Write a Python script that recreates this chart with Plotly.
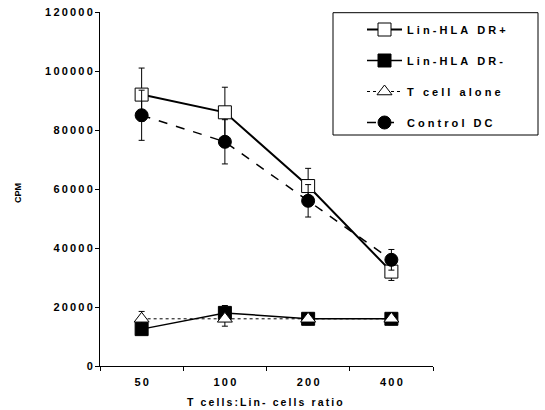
import plotly.graph_objects as go

# ---- data ----
ratios = ["50", "100", "200", "400"]
dr_pos = [92000, 86000, 61000, 32000]
dr_pos_err = [9000, 8500, 6000, 3000]
dr_neg = [12500, 18000, 16000, 16000]
dr_neg_err = [1500, 2500, 1500, 1500]
t_alone = [16000, 16000, 16000, 16000]
t_alone_err = [2500, 2500, 2000, 2000]
ctrl_dc = [85000, 76000, 56000, 36000]
ctrl_dc_err = [8500, 7500, 5500, 3500]
y_ticks = [0, 20000, 40000, 60000, 80000, 100000, 120000]

THIN = "\u2009"
NBSP = "\u00a0"


def spaced(s, sep=THIN):
    return sep.join(NBSP if c == " " else c for c in s)


xcat = [spaced(r) for r in ratios]
FONT = "Liberation Sans, Arial, sans-serif"

fig = go.Figure()


def add(name, y, err, symbol, dash, width, msize, fill):
    fig.add_trace(go.Scatter(
        x=xcat, y=y, name=spaced(name, NBSP), legendgroup=name,
        mode="lines+markers",
        line=dict(color="black", width=width, dash=dash),
        marker=dict(symbol=symbol, size=msize, color=fill,
                    line=dict(color="black", width=1)),
        error_y=dict(type="data", array=err, color="black", thickness=1, width=3),
    ))


add("Lin-HLA DR+", dr_pos, dr_pos_err, "square", "solid", 2, 13, "white")
add("Lin-HLA DR-", dr_neg, dr_neg_err, "square", "solid", 1.5, 13, "black")
add("T cell alone", t_alone, t_alone_err, "triangle-up", "dot", 1, 13, "white")
add("Control DC", ctrl_dc, ctrl_dc_err, "circle", "dash", 1.5, 13, "black")

L, R, T, B = 100, 112, 12, 44
W, H = 545, 410
pw, ph = W - L - R, H - T - B


def px(x):
    return (x - L) / pw


def py(y):
    return (H - B - y) / ph


fig.update_layout(
    width=W, height=H,
    margin=dict(l=L, r=R, t=T, b=B, autoexpand=False),
    paper_bgcolor="white", plot_bgcolor="white",
    font=dict(family=FONT, size=11, color="black", weight="bold"),
    showlegend=True,
    legend=dict(x=px(362), y=py(15), xanchor="left", yanchor="top",
                bgcolor="rgba(0,0,0,0)", borderwidth=0,
                itemwidth=35, tracegroupgap=12, traceorder="grouped",
                font=dict(family=FONT, size=11, color="black", weight="bold")),
    xaxis=dict(type="category", range=[-0.5, 3.5], showline=True, linecolor="black",
               linewidth=1, ticks="outside", ticklen=4, tickcolor="black",
               tickson="boundaries", showgrid=False, zeroline=False,
               ticklabelstandoff=6,
               tickfont=dict(family=FONT, size=11, weight="bold")),
    yaxis=dict(range=[0, 120000], tickvals=y_ticks,
               ticktext=[spaced(str(v)) for v in y_ticks],
               showline=True, linecolor="black", linewidth=1,
               ticks="outside", ticklen=4, tickcolor="black",
               showgrid=False, zeroline=False,
               tickfont=dict(family=FONT, size=11, weight="bold")),
    shapes=[dict(type="rect", xref="paper", yref="paper",
                 x0=px(333), x1=px(538), y0=py(135), y1=py(12.7),
                 line=dict(color="black", width=1), fillcolor="white", layer="below")],
    annotations=[
        dict(text="CPM", xref="paper", yref="paper", x=px(18), y=py(193),
             xanchor="center", yanchor="middle",
             showarrow=False, textangle=-90,
             font=dict(family=FONT, size=9, weight="bold")),
        dict(text=spaced("T cells:Lin- cells ratio"), xref="paper", yref="paper",
             x=px(265), y=py(402), xanchor="center", yanchor="middle",
             showarrow=False,
             font=dict(family=FONT, size=10.5, weight="bold")),
    ],
)

fig.write_html("out.html",
               config={"displayModeBar": False},
               post_script="document.body.style.margin='0';document.body.style.overflow='hidden';")
